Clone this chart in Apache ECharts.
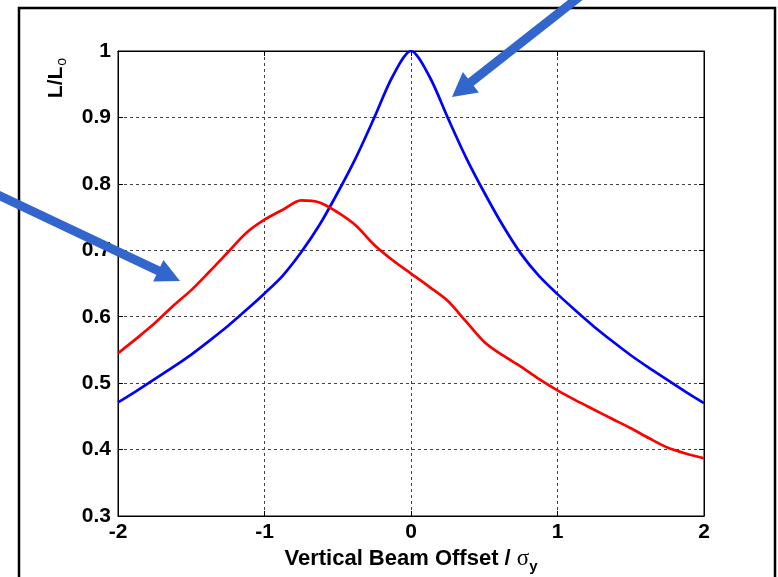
<!DOCTYPE html>
<html>
<head>
<meta charset="utf-8">
<script src="https://cdn.jsdelivr.net/npm/echarts@6/dist/echarts.min.js"></script>
<style>
    html, body { margin: 0; padding: 0; background: #fff; }
    #chart { width: 778px; height: 577px; }
</style>
</head>
<body>
<div id="chart"></div>
<script>
// beam offset in units of sigma_y
var offsets = [-2, -1.875, -1.75, -1.625, -1.5, -1.375, -1.25, -1.125, -1, -0.875, -0.75, -0.625, -0.5, -0.375, -0.25, -0.125,
    0, 0.125, 0.25, 0.375, 0.5, 0.625, 0.75, 0.875, 1, 1.125, 1.25, 1.375, 1.5, 1.625, 1.75, 1.875, 2];

// L/Lo, blue curve
var blueVals = [0.471, 0.488, 0.506, 0.524, 0.543, 0.564, 0.586, 0.610, 0.635, 0.662, 0.697, 0.738, 0.787, 0.840, 0.900, 0.962,
    1.000, 0.962, 0.900, 0.840, 0.787, 0.738, 0.695, 0.661, 0.634, 0.609, 0.585, 0.563, 0.542, 0.523, 0.505, 0.487, 0.470];

// L/Lo, red curve
var redVals = [0.545, 0.567, 0.590, 0.616, 0.640, 0.668, 0.697, 0.726, 0.746, 0.761, 0.775, 0.772, 0.757, 0.737, 0.708, 0.685,
    0.665, 0.645, 0.624, 0.593, 0.562, 0.542, 0.525, 0.506, 0.489, 0.474, 0.460, 0.446, 0.432, 0.417, 0.403, 0.394, 0.387];

var FONT = 'Arial, "Liberation Sans", sans-serif';
var ARROW = '#3366cc';

function pairs(xs, ys) {
    return xs.map(function (x, i) { return [x, ys[i]]; });
}

/**
 * 画一个箭头 (线 + 三角头)
 */
function arrow(tail, tip, headLen, headHalf, width) {
    var dx = tip[0] - tail[0], dy = tip[1] - tail[1];
    var len = Math.sqrt(dx * dx + dy * dy);
    var ux = dx / len, uy = dy / len;
    var bx = tip[0] - ux * headLen, by = tip[1] - uy * headLen;
    return [
        {
            type: 'polyline', z: 100,
            shape: { points: [tail, [bx + ux * 2, by + uy * 2]] },
            style: { stroke: ARROW, lineWidth: width, fill: null }
        },
        {
            type: 'polygon', z: 100,
            shape: { points: [tip, [bx - uy * headHalf, by + ux * headHalf], [bx + uy * headHalf, by - ux * headHalf]] },
            style: { fill: ARROW }
        }
    ];
}

var chart = echarts.init(document.getElementById('chart'));

var labelStyle = { color: '#000', fontFamily: FONT, fontWeight: 'bold', fontSize: 21 };
var tick = { show: true, inside: true, length: 5, lineStyle: { color: '#000' } };
var gridLine = { show: true, lineStyle: { color: '#444', type: [3, 3], width: 1 } };

var option = {
    backgroundColor: '#fff',
    animation: false,
    grid: {
        left: 118, right: 74, top: 51, bottom: 61,
        outerBoundsMode: 'none',
        show: true, borderColor: '#000', borderWidth: 1, backgroundColor: '#fff'
    },
    xAxis: [
        {
            type: 'value', min: -2, max: 2, interval: 1,
            axisLine: { show: true, onZero: false, lineStyle: { color: '#000', width: 1 } },
            axisTick: tick,
            axisLabel: Object.assign({ margin: 6 }, labelStyle),
            splitLine: gridLine,
            name: '{a|Vertical Beam Offset / }{s|σ}{y|y}',
            nameLocation: 'middle',
            nameGap: 27,
            nameTextStyle: {
                rich: {
                    a: { fontFamily: FONT, fontWeight: 'bold', fontSize: 22, color: '#000' },
                    s: { fontFamily: '"Liberation Serif", serif', fontSize: 23, color: '#000' },
                    y: { fontFamily: FONT, fontWeight: 'bold', fontSize: 15, color: '#000', padding: [15, 0, 0, 0] }
                }
            }
        },
        {
            type: 'value', min: -2, max: 2, interval: 1, position: 'top',
            axisLine: { show: true, onZero: false, lineStyle: { color: '#000' } },
            axisTick: tick, axisLabel: { show: false }, splitLine: { show: false }
        }
    ],
    yAxis: [
        {
            type: 'value', min: 0.3, max: 1, interval: 0.1,
            axisLine: { show: true, onZero: false, lineStyle: { color: '#000', width: 1 } },
            axisTick: tick,
            axisLabel: Object.assign({ margin: 7 }, labelStyle),
            splitLine: gridLine
        },
        {
            type: 'value', min: 0.3, max: 1, interval: 0.1, position: 'right',
            axisLine: { show: true, onZero: false, lineStyle: { color: '#000' } },
            axisTick: tick, axisLabel: { show: false }, splitLine: { show: false }
        }
    ],
    series: [
        {
            name: 'blue', type: 'line', showSymbol: false, smooth: 0.3,
            lineStyle: { color: '#0000ff', width: 2.7 },
            data: pairs(offsets, blueVals)
        },
        {
            name: 'red', type: 'line', showSymbol: false, smooth: 0.3,
            lineStyle: { color: '#ff0000', width: 2.7 },
            data: pairs(offsets, redVals)
        }
    ],
    graphic: [
        // 外框
        {
            type: 'rect', z: 50,
            shape: { x: 19, y: 8, width: 756, height: 620 },
            style: { fill: null, stroke: '#000', lineWidth: 2.5 }
        },
        // y轴标题 L/Lo
        {
            type: 'text', z: 60,
            x: 56, y: 78, rotation: Math.PI / 2,
            style: {
                text: '{m|L/L}{o|o}',
                align: 'center', verticalAlign: 'middle',
                rich: {
                    m: { fontFamily: FONT, fontWeight: 'bold', fontSize: 21, fill: '#000' },
                    o: { fontFamily: FONT, fontSize: 14, fill: '#000', padding: [12, 0, 0, 1] }
                }
            }
        }
    ].concat(arrow([588, -10], [452, 97], 24, 13, 9))
     .concat(arrow([-4, 194], [180, 281], 24, 12, 9))
};

chart.setOption(option);
</script>
</body>
</html>
